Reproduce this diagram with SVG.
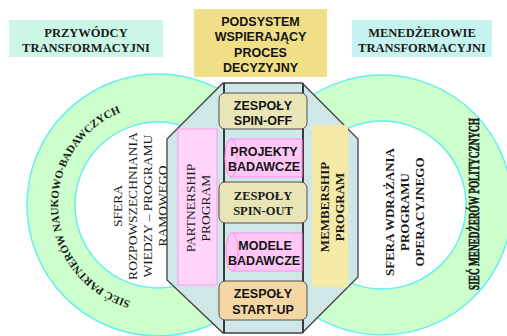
<svg xmlns="http://www.w3.org/2000/svg" width="507" height="336" viewBox="0 0 507 336">
<style>
.ring{fill:#ccffcc;stroke:#66eef2;stroke-width:1.5}
.hole{fill:#ffffff;stroke:#66eef2;stroke-width:1.5}
.serif{font-family:"Liberation Serif","Times New Roman",serif;fill:#1a1a1a}
.sans{font-family:"Liberation Sans",Arial,sans-serif;font-weight:bold;fill:#141414;font-size:12.5px;text-anchor:middle}
.hdr{font-weight:bold;font-size:12.5px;text-anchor:middle}
.khaki{fill:#e9e5b6;stroke:#505050;stroke-width:1}
.pink{fill:#ffc6f6;stroke:#ff8cec;stroke-width:1}
.col{stroke:#3a3a3a;stroke-width:2}
</style>
<defs>
<path id="arcL" d="M 130.4 301.1 A 100 100 0 0 1 125.4 110.5"/>
</defs>
<g id="left-circle">
<circle class="ring" cx="158" cy="205" r="131"/>
<circle class="hole" cx="158" cy="205" r="83"/>
<text class="serif" font-size="11" font-weight="bold"><textPath href="#arcL">SIEĆ PARTNERÓW NAUKOWO-BADAWCZYCH</textPath></text>
<text class="serif" font-size="13.5" text-anchor="middle" transform="translate(0,206) rotate(-90)"><tspan x="0" y="122">SFERA</tspan><tspan x="0" y="137">ROZPOWSZECHNIANIA</tspan><tspan x="0" y="152">WIEDZY – PROGRAMU</tspan><tspan x="0" y="166.5">RAMOWEGO</tspan></text>
</g>
<g id="right-circle">
<circle class="ring" cx="382" cy="205" r="130"/>
<circle class="hole" cx="382" cy="205" r="84"/>
<text class="serif" font-size="15" font-weight="bold" stroke="#1a1a1a" stroke-width="0.6" text-anchor="middle" transform="translate(0,204) rotate(-90)" textLength="172" lengthAdjust="spacingAndGlyphs" x="0" y="478.5">SIEĆ MENEDŻERÓW POLITYCZNYCH</text>
<text class="serif" font-size="13" font-weight="bold" text-anchor="middle" transform="translate(0,212) rotate(-90)"><tspan x="0" y="394">SFERA WDRAŻANIA</tspan><tspan x="0" y="409">PROGRAMU</tspan><tspan x="0" y="424">OPERACYJNEGO</tspan></text>
</g>
<g id="leaders-left">
<rect x="9" y="20" width="154" height="37" fill="#ccf7e6"/>
<text class="serif hdr"><tspan x="86" y="37">PRZYWÓDCY</tspan><tspan x="86" y="51.5">TRANSFORMACYJNI</tspan></text>
</g>
<g id="managers-right">
<rect x="352" y="20" width="140" height="37" fill="#c6f3ef"/>
<text class="serif hdr"><tspan x="422" y="37">MENEDŻEROWIE</tspan><tspan x="422" y="51.5">TRANSFORMACYJNI</tspan></text>
</g>
<g id="decision-subsystem">
<rect x="194" y="9" width="133" height="68" fill="#f0df86"/>
<text class="sans"><tspan x="260.5" y="25.5">PODSYSTEM</tspan><tspan x="260.5" y="41">WSPIERAJĄCY</tspan><tspan x="260.5" y="56.5">PROCES</tspan><tspan x="260.5" y="72">DECYZYJNY</tspan></text>
</g>
<g id="hub">
<polygon points="223,83 302,83 358,139 358,277 302,333 223,333 167,280 167,139" fill="#d0e7e8" stroke="#404040" stroke-width="1.3"/>
<line class="col" x1="224" y1="83" x2="224" y2="333"/>
<line class="col" x1="303" y1="83" x2="303" y2="333"/>
</g>
<g id="partnership-program">
<rect x="178" y="129" width="39" height="156" fill="#ffd4fa" stroke="#ff9cee" stroke-width="1"/>
<text class="serif" font-size="13.5" text-anchor="middle" fill="#3d2233" transform="translate(0,208) rotate(-90)"><tspan x="0" y="195">PARTNERSHIP</tspan><tspan x="0" y="209.5">PROGRAM</tspan></text>
</g>
<g id="membership-program">
<rect x="312" y="125" width="36" height="162" fill="#f5eaa8"/>
<text class="serif" font-size="13" font-weight="bold" text-anchor="middle" fill="#3a3020" transform="translate(0,207) rotate(-90)"><tspan x="0" y="329">MEMBERSHIP</tspan><tspan x="0" y="343.5">PROGRAM</tspan></text>
</g>
<g id="spin-off">
<rect class="khaki" x="219" y="93" width="88" height="36" rx="6"/>
<text class="sans"><tspan x="263" y="109.5">ZESPOŁY</tspan><tspan x="263" y="125">SPIN-OFF</tspan></text>
</g>
<g id="research-projects">
<path class="pink" d="M 231 139 H 302 V 177 H 231 A 6 19 0 0 1 231 139 Z"/>
<path d="M 231 139 A 6 19 0 0 1 231 177" fill="none" stroke="#ff8cec" stroke-width="1"/>
<text class="sans"><tspan x="264" y="155.5">PROJEKTY</tspan><tspan x="264" y="171">BADAWCZE</tspan></text>
</g>
<g id="spin-out">
<rect class="khaki" x="219" y="182" width="88" height="41" rx="6"/>
<text class="serif hdr"><tspan x="263" y="200">ZESPOŁY</tspan><tspan x="263" y="214.5">SPIN-OUT</tspan></text>
</g>
<g id="research-models">
<path class="pink" d="M 232 233 H 302 V 271 H 232 A 6 19 0 0 1 232 233 Z"/>
<path d="M 232 233 A 6 19 0 0 1 232 271" fill="none" stroke="#ff8cec" stroke-width="1"/>
<text class="sans"><tspan x="265" y="250">MODELE</tspan><tspan x="264" y="265">BADAWCZE</tspan></text>
</g>
<g id="start-up">
<rect x="219" y="281" width="88" height="39" rx="6" fill="#f5d7a3" stroke="#505050" stroke-width="1"/>
<text class="sans"><tspan x="263" y="297.5">ZESPOŁY</tspan><tspan x="263" y="314">START-UP</tspan></text>
</g>
<g id="connectors"/>
</svg>
